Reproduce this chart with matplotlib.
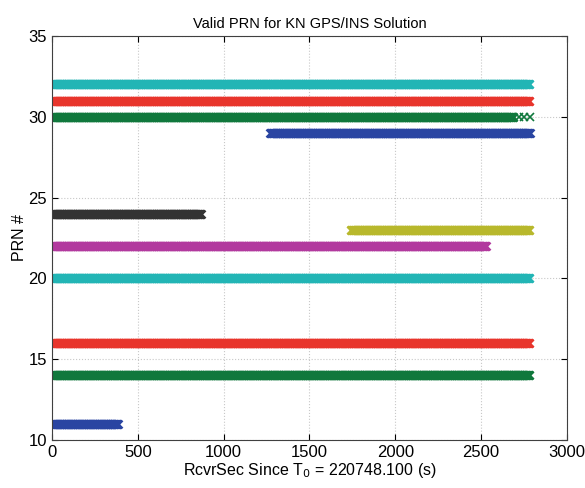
import numpy as np
import matplotlib
matplotlib.use("Agg")
import matplotlib.pyplot as plt

plt.rcParams['font.family'] = ['Liberation Sans', 'DejaVu Sans']

# PRN tracks: (prn, start_s, end_s, colour)
prns   = [32, 31, 30, 29, 24, 23, 22, 20, 16, 14, 11]
starts = [0, 0, 0, 1270, 0, 1740, 0, 0, 0, 0, 0]
ends   = [2783, 2783, 2690, 2783, 868, 2783, 2528, 2783, 2783, 2783, 385]
colors = ['#22b5b5', '#e8352c', '#10783c', '#2a45a2', '#333333', '#b8b82c',
          '#b2399e', '#22b5b5', '#e8352c', '#10783c', '#2a45a2']
# sparse tail of PRN 30
prn30_tail = [2720, 2750, 2783]

fig = plt.figure(figsize=(5.85, 4.88), dpi=100)
ax = fig.add_axes([0.0889, 0.0984, 0.8803, 0.8279])

step = 4
for p, s, e, c in zip(prns, starts, ends, colors):
    t = np.arange(s, e + 0.1, step)
    ax.plot(t, np.full_like(t, p, dtype=float), linestyle='none', marker='x',
            markersize=6, markeredgewidth=1.8, color=c)
tail = np.array(prn30_tail, dtype=float)
ax.plot(tail, np.full_like(tail, 30), linestyle='none', marker='x',
        markersize=6, markeredgewidth=1.2, color='#10783c')

ax.set_xlim(0, 3000)
ax.set_ylim(10, 35)
ax.set_xticks(np.arange(0, 3001, 500))
ax.set_yticks(np.arange(10, 36, 5))
ax.tick_params(direction='in', labelsize=12, length=4, top=True, right=True)
ax.grid(True, linestyle=':', color='#c8c8c8', linewidth=0.8)
ax.set_axisbelow(True)
for sp in ax.spines.values():
    sp.set_color('#404040')
ax.set_title('Valid PRN for KN GPS/INS Solution', fontsize=10.5, pad=6)
ax.set_xlabel('RcvrSec Since T$_0$ = 220748.100 (s)', fontsize=11.5, labelpad=1)
ax.set_ylabel('PRN #', fontsize=11.5, labelpad=1)

fig.savefig('out.png', dpi=100)
